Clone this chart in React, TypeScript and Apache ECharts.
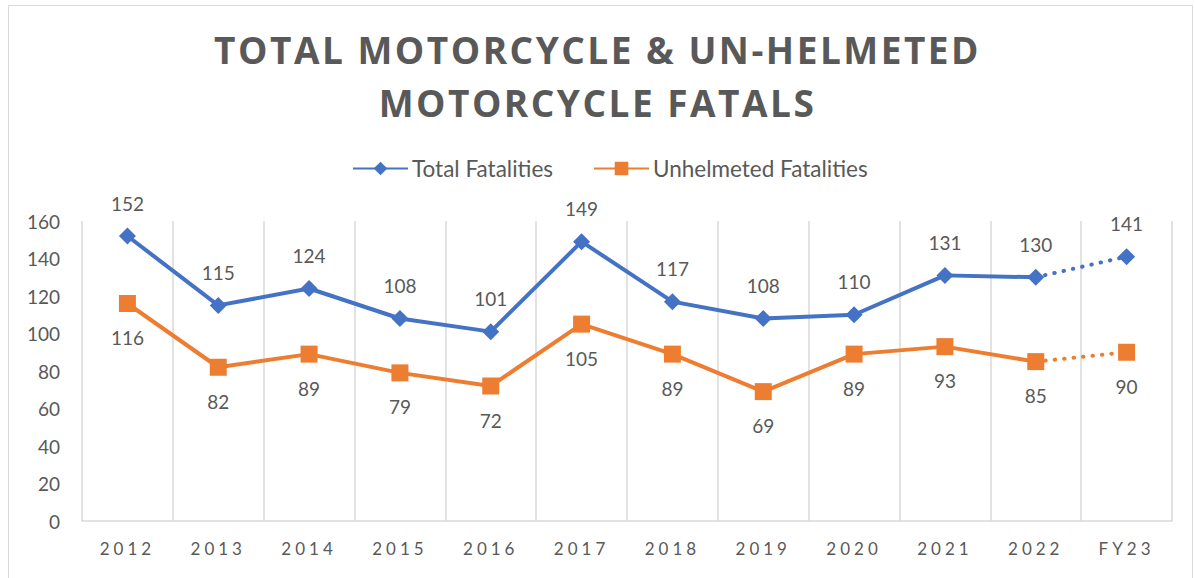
import React, { useEffect, useRef } from "react";
import * as echarts from "echarts";

const categories = ["2012", "2013", "2014", "2015", "2016", "2017", "2018", "2019", "2020", "2021", "2022", "FY23"];
const totalFatalities = [152, 115, 124, 108, 101, 149, 117, 108, 110, 131, 130, 141];
const unhelmetedFatalities = [116, 82, 89, 79, 72, 105, 89, 69, 89, 93, 85, 90];
const seriesNames = ["Total Fatalities", "Unhelmeted Fatalities"];
const titleText = "TOTAL MOTORCYCLE & UN-HELMETED\nMOTORCYCLE FATALS";

const BLUE = "#4472C4";
const ORANGE = "#ED7D31";
const TXT = "#595959";
const GRIDC = "#D9D9D9";
const FONT = "Lato, 'Open Sans', sans-serif";

// solid part: all points but the projected last one
function solidPart(values: number[]) {
  return values.map((v, i) => (i < values.length - 1 ? v : null));
}
// dotted part: last actual point to projected point
function dottedPart(values: number[]) {
  const n = values.length;
  return values.map((v, i) => {
    if (i === n - 2) return { value: v, symbol: "none", label: { show: false } };
    if (i === n - 1) return v;
    return null;
  });
}

export default function App() {
  const ref = useRef<HTMLDivElement>(null);
  useEffect(() => {
    if (!ref.current) return;
    const chart = echarts.init(ref.current, null, { renderer: "svg" });
    const labelTop = { show: true, position: "top", distance: 15, color: TXT, fontSize: 19, fontFamily: FONT };
    const labelBottom = { show: true, position: "bottom", distance: 16, color: TXT, fontSize: 19, fontFamily: FONT };
    chart.setOption({
      animation: false,
      title: {
        text: titleText,
        left: "center",
        top: 18,
        textStyle: {
          fontSize: 37,
          fontWeight: "bold",
          color: TXT,
          fontFamily: "'Open Sans', ttlspc, sans-serif",
          lineHeight: 53,
        },
      },
      legend: {
        data: seriesNames,
        top: 152,
        left: 347,
        itemWidth: 55,
        itemHeight: 17,
        itemGap: 40,
        textStyle: { color: TXT, fontSize: 22.5, fontFamily: FONT, padding: [0, 0, 0, -1] },
      },
      graphic: [
        {
          type: "rect",
          left: 6,
          top: 3,
          shape: { width: 1184, height: 574 },
          style: { fill: "none", stroke: GRIDC, lineWidth: 1 },
          silent: true,
        },
      ],
      grid: { left: 82, right: 23, top: 221, bottom: 57 },
      xAxis: {
        type: "category",
        data: categories,
        boundaryGap: true,
        axisTick: { show: false },
        axisLine: { lineStyle: { color: GRIDC, width: 1.5 } },
        splitLine: { show: true, lineStyle: { color: GRIDC, width: 1.5 }, interval: 0 },
        axisLabel: { color: TXT, fontSize: 17, fontFamily: "Lato, xlblspc, sans-serif", margin: 19 },
      },
      yAxis: {
        type: "value",
        min: 0,
        max: 160,
        interval: 20,
        splitLine: { show: false },
        axisLine: { show: false },
        axisTick: { show: false },
        axisLabel: { color: TXT, fontSize: 19, fontFamily: FONT, margin: 22 },
      },
      series: [
        {
          name: seriesNames[0],
          type: "line",
          data: solidPart(totalFatalities),
          symbol: "diamond",
          symbolSize: 17,
          lineStyle: { color: BLUE, width: 4 },
          itemStyle: { color: BLUE },
          label: labelTop,
          z: 3,
        },
        {
          name: seriesNames[0],
          type: "line",
          data: dottedPart(totalFatalities),
          symbol: "diamond",
          symbolSize: 17,
          lineStyle: { color: BLUE, width: 4, type: [0.5, 9], cap: "round" },
          itemStyle: { color: BLUE },
          label: labelTop,
          z: 2,
        },
        {
          name: seriesNames[1],
          type: "line",
          data: solidPart(unhelmetedFatalities),
          symbol: "rect",
          symbolSize: 17,
          lineStyle: { color: ORANGE, width: 4 },
          itemStyle: { color: ORANGE },
          label: labelBottom,
          z: 3,
        },
        {
          name: seriesNames[1],
          type: "line",
          data: dottedPart(unhelmetedFatalities),
          symbol: "rect",
          symbolSize: 17,
          lineStyle: { color: ORANGE, width: 4, type: [0.5, 9], cap: "round" },
          itemStyle: { color: ORANGE },
          label: labelBottom,
          z: 2,
        },
      ],
    });
    return () => chart.dispose();
  }, []);
  return (
    <>
      <style>{`
        #chartbox text[style*="ttlspc"] { letter-spacing: 2.5px; }
        #chartbox text[style*="xlblspc"] { letter-spacing: 4px; }
      `}</style>
      <div
        id="chartbox"
        ref={ref}
        style={{ position: "absolute", left: 0, top: 0, width: 1195, height: 578, background: "#fff" }}
      />
    </>
  );
}
